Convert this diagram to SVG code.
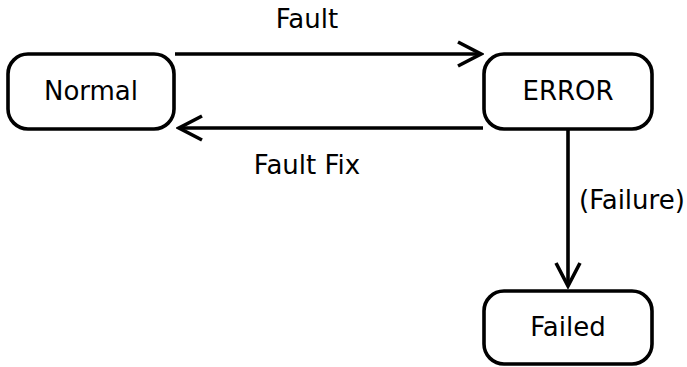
<svg xmlns="http://www.w3.org/2000/svg" width="687" height="367" viewBox="0 0 687 367">
  <defs>
    <!-- open chevron arrowhead, tip at the path end -->
    <marker id="arrow" viewBox="0 0 28 30" refX="25" refY="15" markerWidth="28" markerHeight="30" markerUnits="userSpaceOnUse" orient="auto">
      <path d="M2 3 L25 15 L2 27" fill="none" stroke="#000" stroke-width="3.6" stroke-linecap="butt" stroke-linejoin="miter"/>
    </marker>
  </defs>
  <style>
    .state { fill: #fff; stroke: #000; stroke-width: 3.6; }
    .label { font-family: "DejaVu Sans", sans-serif; font-size: 26px; fill: #000; }
    .edge { fill: none; stroke: #000; stroke-width: 3.6; marker-end: url(#arrow); }
  </style>
  <rect width="687" height="367" fill="#fff"/>

  <g id="connectors">
    <line class="edge" x1="175" y1="54" x2="481" y2="54"/>
    <line class="edge" x1="483" y1="128" x2="179" y2="128"/>
    <line class="edge" x1="568" y1="130" x2="568" y2="286"/>
    <text class="label" x="307" y="28" text-anchor="middle">Fault</text>
    <text class="label" x="307" y="174" text-anchor="middle">Fault Fix</text>
    <text class="label" x="579" y="209">(Failure)</text>
  </g>

  <g id="normal">
    <rect class="state" x="8" y="54" width="166" height="75" rx="20"/>
    <text class="label" x="91" y="100" text-anchor="middle">Normal</text>
  </g>

  <g id="error">
    <rect class="state" x="484" y="54" width="168" height="75" rx="20"/>
    <text class="label" x="568" y="100" text-anchor="middle">ERROR</text>
  </g>

  <g id="failed">
    <rect class="state" x="484" y="291" width="168" height="73" rx="20"/>
    <text class="label" x="568" y="336" text-anchor="middle">Failed</text>
  </g>
</svg>
